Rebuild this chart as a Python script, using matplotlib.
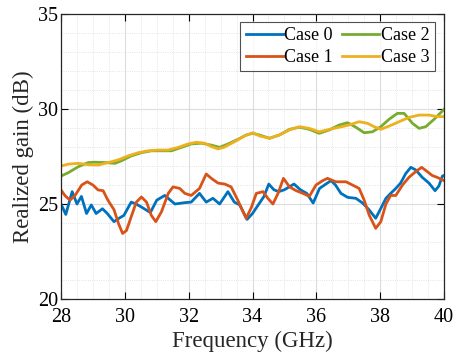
import matplotlib
matplotlib.use("Agg")
import matplotlib.pyplot as plt
from matplotlib.ticker import MultipleLocator

plt.rcParams['font.family'] = ['Liberation Serif', 'DejaVu Serif']
plt.rcParams['mathtext.fontset'] = 'stix'

f0 = [28.0, 28.15, 28.35, 28.5, 28.64, 28.8, 28.95, 29.1, 29.3, 29.45, 29.66, 29.82, 29.97,
      30.2, 30.35, 30.5, 30.8, 31.0, 31.25, 31.57, 31.875, 32.08, 32.34, 32.55, 32.76, 32.97,
      33.23, 33.43, 33.6, 33.83, 34.0, 34.2, 34.36, 34.51, 34.67, 34.82, 35.0, 35.3, 35.5,
      35.7, 35.9, 36.1, 36.3, 36.46, 36.6, 36.77, 36.98, 37.24, 37.45, 37.65, 37.86, 38.0,
      38.18, 38.33, 38.49, 38.64, 38.8, 38.96, 39.11, 39.32, 39.53, 39.72, 39.84, 39.95, 40.0]
case0 = [25.0, 24.45, 25.65, 25.0, 25.4, 24.5, 24.95, 24.5, 24.75, 24.5, 24.07, 24.25, 24.4,
         25.1, 25.0, 24.86, 24.55, 25.2, 25.45, 25.0, 25.07, 25.1, 25.56, 25.1, 25.3, 25.0,
         25.65, 25.1, 24.95, 24.19, 24.5, 25.0, 25.4, 26.05, 25.75, 25.65, 25.75, 26.05, 25.75,
         25.56, 25.05, 25.82, 26.05, 26.23, 26.0, 25.56, 25.35, 25.3, 25.05, 24.7, 24.25, 24.7,
         25.3, 25.56, 25.82, 26.1, 26.6, 26.93, 26.8, 26.4, 26.1, 25.7, 25.95, 26.47, 26.5]

f1 = [28.0, 28.12, 28.28, 28.44, 28.65, 28.82, 29.0, 29.16, 29.32, 29.47, 29.66, 29.8, 29.93,
      30.05, 30.2, 30.36, 30.52, 30.68, 30.83, 30.97, 31.15, 31.36, 31.51, 31.72, 31.88, 32.08,
      32.34, 32.55, 32.71, 32.92, 33.13, 33.33, 33.54, 33.7, 33.8, 33.96, 34.12, 34.33, 34.48,
      34.64, 34.8, 34.97, 35.16, 35.37, 35.58, 35.78, 35.99, 36.2, 36.35, 36.61, 36.93, 37.13,
      37.34, 37.5, 37.66, 37.86, 38.02, 38.18, 38.33, 38.49, 38.7, 38.9, 39.11, 39.3, 39.48,
      39.63, 39.79, 40.0]
case1 = [25.74, 25.45, 25.2, 25.45, 26.0, 26.17, 26.0, 25.74, 25.7, 25.2, 24.7, 23.98, 23.45,
         23.6, 24.33, 25.1, 25.37, 25.1, 24.4, 24.07, 24.6, 25.56, 25.9, 25.82, 25.56, 25.45,
         25.82, 26.58, 26.35, 26.1, 26.05, 25.9, 25.2, 24.6, 24.25, 24.8, 25.56, 25.65, 25.3,
         25.0, 25.56, 26.35, 25.9, 25.7, 25.56, 25.4, 26.0, 26.23, 26.35, 26.17, 26.17, 26.0,
         25.82, 25.2, 24.4, 23.72, 24.07, 25.0, 25.45, 25.45, 26.0, 26.4, 26.7, 26.93, 26.7,
         26.5, 26.4, 26.23]

f2 = [28.0, 28.23, 28.54, 28.85, 29.06, 29.4, 29.69, 29.9, 30.2, 30.52, 30.83, 31.15, 31.46,
      31.77, 32.08, 32.4, 32.71, 32.97, 33.23, 33.54, 33.8, 34.01, 34.22, 34.53, 34.84, 35.16,
      35.47, 35.78, 36.09, 36.41, 36.72, 36.98, 37.24, 37.5, 37.76, 38.02, 38.28, 38.54, 38.75,
      39.01, 39.22, 39.43, 39.69, 40.0]
case2 = [26.47, 26.65, 26.96, 27.18, 27.2, 27.18, 27.14, 27.28, 27.53, 27.7, 27.8, 27.8, 27.8,
         27.98, 28.16, 28.2, 28.1, 27.98, 28.16, 28.4, 28.63, 28.72, 28.63, 28.46, 28.63, 28.93,
         29.04, 28.93, 28.72, 28.9, 29.16, 29.28, 29.04, 28.75, 28.8, 29.07, 29.46, 29.77, 29.77,
         29.25, 28.98, 29.07, 29.46, 29.98]

f3 = [28.0, 28.23, 28.54, 28.85, 29.17, 29.48, 29.79, 30.1, 30.42, 30.73, 31.04, 31.35, 31.67,
      31.98, 32.24, 32.5, 32.71, 32.92, 33.1, 33.44, 33.75, 34.01, 34.22, 34.53, 34.84, 35.16,
      35.47, 35.78, 36.09, 36.41, 36.72, 37.03, 37.34, 37.6, 37.81, 38.02, 38.28, 38.59, 38.91,
      39.22, 39.53, 39.79, 40.0]
case3 = [27.0, 27.1, 27.14, 27.07, 27.05, 27.18, 27.32, 27.53, 27.7, 27.8, 27.84, 27.84, 27.98,
         28.16, 28.25, 28.2, 28.02, 27.9, 27.98, 28.28, 28.58, 28.75, 28.58, 28.46, 28.63, 28.9,
         29.07, 28.98, 28.8, 28.93, 29.04, 29.16, 29.33, 29.25, 29.07, 28.93, 29.1, 29.33, 29.56,
         29.68, 29.68, 29.6, 29.6]

labels = ["Case 0", "Case 1", "Case 2", "Case 3"]
colors = ["#0072BD", "#D95319", "#77AC30", "#EDB120"]

fig = plt.figure(figsize=(4.56, 3.58), dpi=100)
ax = fig.add_axes([61 / 456, 59 / 358, 383 / 456, 285 / 358])

lw = 2.0
l0, = ax.plot(f0, case0, color=colors[0], lw=lw, label=labels[0])
l1, = ax.plot(f1, case1, color=colors[1], lw=lw, label=labels[1])
l2, = ax.plot(f2, case2, color=colors[2], lw=lw, label=labels[2])
l3, = ax.plot(f3, case3, color=colors[3], lw=lw, label=labels[3])

ax.set_xlim(28, 40)
ax.set_ylim(20, 35)
ax.xaxis.set_major_locator(MultipleLocator(2))
ax.xaxis.set_minor_locator(MultipleLocator(0.5))
ax.yaxis.set_major_locator(MultipleLocator(5))
ax.yaxis.set_minor_locator(MultipleLocator(1))
ax.grid(which='major', color='#dcdcdc', lw=0.8, ls='-')
ax.grid(which='minor', color='#dcdcdc', lw=0.6, ls=':')
ax.set_axisbelow(True)
ax.tick_params(which='major', direction='in', top=True, right=True, length=5,
               labelsize=14.5, width=0.8)
ax.tick_params(axis='x', which='major', pad=6.5)
ax.tick_params(axis='y', which='major', pad=2)
ax.tick_params(which='minor', length=0)
for s in ax.spines.values():
    s.set_linewidth(0.9)
    s.set_color('#262626')

ax.set_xlabel("Frequency (GHz)", fontsize=16.5, labelpad=3, color='#262626')
ax.set_ylabel("Realized gain (dB)", fontsize=16.5, labelpad=3, color='#262626')

leg = ax.legend(handles=[l0, l1, l2, l3], ncol=2, loc='upper right', fontsize=13,
                bbox_to_anchor=(374 / 383, 277 / 285), borderaxespad=0,
                frameon=True, fancybox=False, edgecolor='#262626', handlelength=2.05,
                handletextpad=0.1, columnspacing=0.5, borderpad=0.3, labelspacing=0.25)
leg.get_frame().set_linewidth(0.8)

fig.savefig("out.png", dpi=100)
